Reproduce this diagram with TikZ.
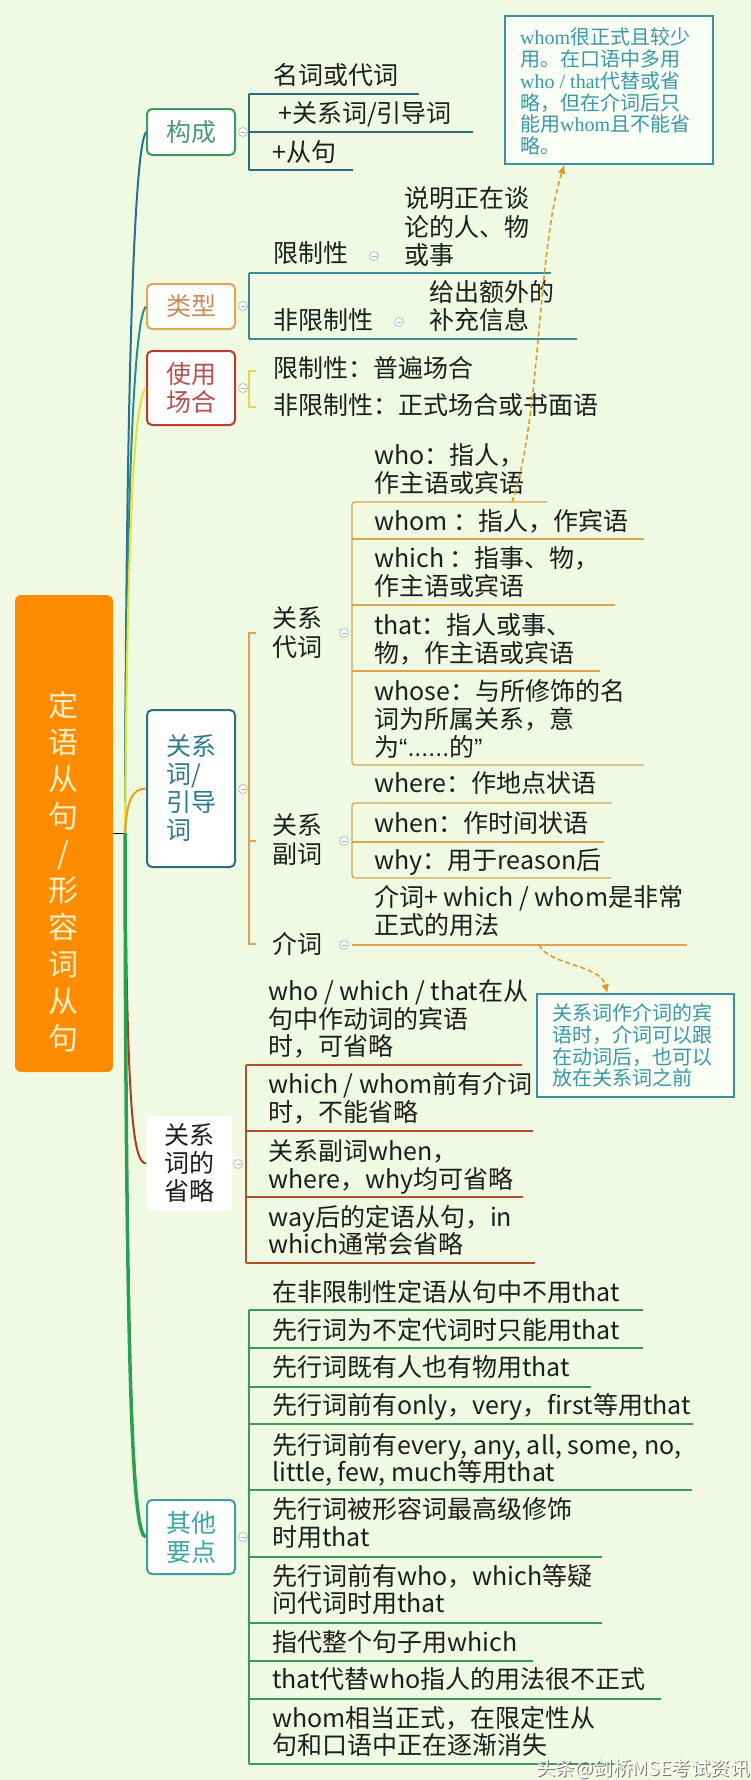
\documentclass[tikz,border=0pt]{standalone}
\usepackage{fontspec}
\setmainfont{Noto Sans CJK SC}
\newfontfamily\serifen{Liberation Serif}
\newfontfamily\latinsans{Liberation Sans}
\usetikzlibrary{arrows.meta}
\definecolor{bg}{RGB}{240,250,226}
\definecolor{txt}{RGB}{30,30,30}
\definecolor{gouB}{RGB}{59,154,100}
\definecolor{gouT}{RGB}{74,154,120}
\definecolor{lxB}{RGB}{226,165,80}
\definecolor{lxT}{RGB}{200,140,90}
\definecolor{syB}{RGB}{192,57,43}
\definecolor{syT}{RGB}{181,81,78}
\definecolor{gxB}{RGB}{45,111,126}
\definecolor{gxT}{RGB}{45,122,138}
\definecolor{qtB}{RGB}{58,160,160}
\definecolor{qtT}{RGB}{58,168,160}
\definecolor{kA}{RGB}{47,107,124}
\definecolor{kB}{RGB}{58,138,149}
\definecolor{kC}{RGB}{232,214,80}
\definecolor{kD}{RGB}{219,165,80}
\definecolor{kE}{RGB}{181,80,46}
\definecolor{kF}{RGB}{58,154,90}
\definecolor{rA}{RGB}{43,111,142}
\definecolor{rB}{RGB}{44,140,140}
\definecolor{rC}{RGB}{230,226,60}
\definecolor{rD}{RGB}{232,160,32}
\definecolor{rE}{RGB}{176,58,32}
\definecolor{rF}{RGB}{42,160,80}
\definecolor{rootc}{RGB}{255,140,0}
\definecolor{roott}{RGB}{255,240,200}
\definecolor{callB}{RGB}{58,144,160}
\definecolor{callT}{RGB}{58,152,168}
\definecolor{callF}{RGB}{250,255,245}
\definecolor{dashc}{RGB}{229,149,30}
\newcommand\itemfont{\fontsize{25}{27.5}\selectfont}
\newcommand\callfont{\fontsize{20}{21.8}\selectfont}
\newcommand\rootfont{\fontsize{30}{37}\selectfont}
\newcommand\wmfont{\fontsize{19.5}{24}\selectfont}
\newcommand\lns[2]{\vtop{\baselineskip=#1pt\relax\halign{##\hfil\cr#2\crcr}}}
\newcommand\clns[2]{\vtop{\baselineskip=#1pt\relax\halign{\hfil##\hfil\cr#2\crcr}}}
\begin{document}
\begin{tikzpicture}[x=1pt,y=-1pt,
  item/.style={anchor=base west,inner sep=0,font=\itemfont,text=txt},
  lbl/.style={rounded corners=5pt,line width=2pt,fill=white,minimum width=88pt,inner sep=0,font=\itemfont},
  rootbox/.style={fill=rootc,rounded corners=6pt,minimum width=98pt,minimum height=477pt,inner sep=0},
  roottxt/.style={inner sep=0,font=\rootfont,text=roott},
  callbox/.style={draw=callB,fill=callF,line width=1.3pt,inner sep=0},
  calltxt/.style={anchor=base west,inner sep=0,font=\callfont,text=callT},
  brk/.style={line width=1.3pt},
  branch/.style={line width=2pt},
  clp/.style={circle,draw=gray!60,fill=white,line width=0.6pt,minimum size=9pt,inner sep=0,
    path picture={\draw[gray!60,line width=0.6pt] ([xshift=-2.5pt]path picture bounding box.center) -- ([xshift=2.5pt]path picture bounding box.center);}},
  dasharrow/.style={draw=dashc,line width=1.5pt,dash pattern=on 5pt off 3pt,-{Latex[length=9pt,width=8pt]}}
]
\useasboundingbox (0,0) rectangle (751,1780);
\fill[bg] (0,0) rectangle (751,1780);

% ---------- brackets / underlines ----------
% 构成
\draw[brk,kA] (249,94) -- (249,170);
\draw[brk,kA] (249,94) -- (419,94);
\draw[brk,kA] (249,132) -- (473,132);
\draw[brk,kA] (249,170) -- (353,170);
% 类型
\draw[brk,kB] (249,273) -- (249,339);
\draw[brk,kB] (249,273) -- (551,273);
\draw[brk,kB] (249,339) -- (577,339);
% 使用场合
\draw[brk,kC] (256,371) -- (249,371) -- (249,407) -- (256,407);
% 关系词/引导词
\draw[brk,kD] (256,633) -- (249,633) -- (249,944) -- (256,944);
\draw[brk,kD] (249,841) -- (256,841);
\draw[brk,kD,rounded corners=3pt] (547,502) -- (352,502) -- (352,765) -- (644,765);
\draw[brk,kD] (352,539) -- (644,539);
\draw[brk,kD] (352,605) -- (615,605);
\draw[brk,kD] (352,671) -- (600,671);
\draw[brk,kD,rounded corners=3pt] (612,803) -- (352,803) -- (352,878) -- (611,878);
\draw[brk,kD] (352,842) -- (604,842);
\draw[brk,kD] (352,945) -- (687,945);
% 关系词的省略
\draw[brk,kE] (246,1065) -- (246,1263);
\draw[brk,kE] (246,1065) -- (522,1065);
\draw[brk,kE] (246,1131) -- (533,1131);
\draw[brk,kE] (246,1197) -- (523,1197);
\draw[brk,kE] (246,1263) -- (535,1263);
% 其他要点
\draw[brk,kF] (249,1310) -- (249,1764);
\draw[brk,kF] (249,1310) -- (643,1310);
\draw[brk,kF] (249,1348) -- (643,1348);
\draw[brk,kF] (249,1387) -- (591,1387);
\draw[brk,kF] (249,1424) -- (693,1424);
\draw[brk,kF] (249,1490) -- (692,1490);
\draw[brk,kF] (249,1557) -- (602,1557);
\draw[brk,kF] (249,1623) -- (602,1623);
\draw[brk,kF] (249,1661) -- (533,1661);
\draw[brk,kF] (249,1699) -- (661,1699);
\draw[brk,kF] (249,1764) -- (614,1764);

% ---------- root and sub topics ----------
\node[rootbox] (root) at (64,833.5) {};
\node[roottxt] (roottext) at (63,872) {\clns{37}{定\cr 语\cr 从\cr 句\cr /\cr 形\cr 容\cr 词\cr 从\cr 句}};

\node[lbl,draw=gouB,text=gouT,minimum height=46pt] (b1) at (191,132) {构成};
\node[lbl,draw=lxB,text=lxT,minimum height=45pt] (b2) at (191,306.5) {类型};
\node[lbl,draw=syB,text=syT,minimum height=74pt] (b3) at (191,388) {\clns{28}{使用\cr 场合}};
\node[lbl,draw=gxB,text=gxT,minimum height=157pt] (b4) at (191,788.5) {\lns{28}{关系\cr 词/\cr 引导\cr 词}};
\node[lbl,draw=none,rounded corners=0pt,text=txt,minimum width=85pt,minimum height=95pt] (b5) at (189.5,1163.5) {\lns{28}{关系\cr 词的\cr 省略}};
\node[lbl,draw=qtB,text=qtT,minimum height=74pt] (b6) at (191,1537) {\clns{29}{其他\cr 要点}};

% ---------- branches ----------
\coordinate (hub) at (125,833);
\draw[line width=1pt,black] (root.east |- hub) -- (hub);
\draw[branch,rA] (hub) .. controls (126,420) and (133,150) .. (b1.west);
\draw[branch,rB] (hub) .. controls (126,520) and (133,318) .. (b2.west);
\draw[branch,rC] (hub) .. controls (127,560) and (133,398) .. (b3.west);
\draw[branch,rD] (hub) .. controls (127,800) and (132,789) .. (b4.west);
\draw[branch,rE] (hub) .. controls (127,1100) and (132,1163) .. (b5.west);
\draw[line width=3.5pt,rF] (hub) .. controls (126,1400) and (133,1537) .. (b6.west);

% ---------- collapse markers ----------
\node[clp] (k1) at (243,132) {};
\node[clp] (k2) at (243,306) {};
\node[clp] (k3) at (243,388) {};
\node[clp] (k4) at (243,789) {};
\node[clp] (k5) at (344,633) {};
\node[clp] (k6) at (344,841) {};
\node[clp] (k7) at (344,945) {};
\node[clp] (k8) at (238,1164) {};
\node[clp] (k9) at (243,1537) {};
\node[clp] (k10) at (374,256) {};
\node[clp] (k11) at (399,322) {};

% ---------- 构成 ----------
\node[item] (c1) at (273,84.5) {名词或代词};
\node[item] (c2) at (278,122.5) {+关系词/引导词};
\node[item] (c3) at (272,161.5) {+从句};
% ---------- 类型 ----------
\node[item] (t1) at (273,262.5) {限制性};
\node[item] (t1c) at (404,207.5) {\lns{28.5}{说明正在谈\cr 论的人、物\cr 或事}};
\node[item] (t2) at (273,329.5) {非限制性};
\node[item] (t2c) at (429,301.5) {\lns{28}{给出额外的\cr 补充信息}};
% ---------- 使用场合 ----------
\node[item] (u1) at (273,377.5) {限制性：普遍场合};
\node[item] (u2) at (273,414.5) {非限制性：正式场合或书面语};
% ---------- 关系词/引导词 ----------
\node[item] (pl) at (272,627.5) {\lns{29}{关系\cr 代词}};
\node[item] (p1) at (374,464.5) {\lns{27.5}{who：指人，\cr 作主语或宾语}};
\node[item] (p2) at (374,530.5) {whom ：指人，作宾语};
\node[item] (p3) at (374,567.5) {\lns{27.5}{which ：指事、物，\cr 作主语或宾语}};
\node[item] (p4) at (374,634.5) {\lns{27.5}{that：指人或事、\cr 物，作主语或宾语}};
\node[item] (p5) at (374,700.5) {\lns{28}{whose：与所修饰的名\cr 词为所属关系，意\cr 为{\latinsans“......}的{\latinsans”}}};
\node[item] (al) at (272,834.5) {\lns{29}{关系\cr 副词}};
\node[item] (a1) at (374,792.5) {where：作地点状语};
\node[item] (a2) at (374,832.5) {when：作时间状语};
\node[item] (a3) at (374,869.5) {why：用于reason后};
\node[item] (jl) at (272,953.5) {介词};
\node[item] (j1) at (374,906.5) {\lns{28}{介词+ which / whom是非常\cr 正式的用法}};
% ---------- 关系词的省略 ----------
\node[item] (o1) at (268,1000.5) {\lns{27.5}{who / which / that在从\cr 句中作动词的宾语\cr 时，可省略}};
\node[item] (o2) at (268,1093.5) {\lns{27.5}{which / whom前有介词\cr 时，不能省略}};
\node[item] (o3) at (268,1160.5) {\lns{27.5}{关系副词when，\cr where，why均可省略}};
\node[item] (o4) at (268,1226.5) {\lns{27}{way后的定语从句，in\cr which通常会省略}};
% ---------- 其他要点 ----------
\node[item] (q1) at (272,1301.5) {在非限制性定语从句中不用that};
\node[item] (q2) at (272,1339.5) {先行词为不定代词时只能用that};
\node[item] (q3) at (272,1376.5) {先行词既有人也有物用that};
\node[item] (q4) at (272,1414.5) {先行词前有only，very，first等用that};
\node[item] (q5) at (272,1454.5) {\lns{27}{先行词前有every, any, all, some, no,\cr little, few, much等用that}};
\node[item] (q6) at (272,1518.5) {\lns{28}{先行词被形容词最高级修饰\cr 时用that}};
\node[item] (q7) at (272,1585.5) {\lns{27}{先行词前有who，which等疑\cr 问代词时用that}};
\node[item] (q8) at (272,1651.5) {指代整个句子用which};
\node[item] (q9) at (272,1688.5) {that代替who指人的用法很不正式};
\node[item] (q10) at (272,1727.5) {\lns{27}{whom相当正式，在限定性从\cr 句和口语中正在逐渐消失}};

% ---------- callouts ----------
\node[callbox,minimum width=208pt,minimum height=148pt] (cb1) at (609,90) {};
\node[calltxt] (cb1t) at (520,44.6) {\lns{21.8}{{\serifen whom}很正式且较少\cr 用。在口语中多用\cr {\serifen who / that}代替或省\cr 略，但在介词后只\cr 能用{\serifen whom}且不能省\cr 略。}};
\node[callbox,minimum width=197pt,minimum height=103pt] (cb2) at (635.5,1045.5) {};
\node[calltxt] (cb2t) at (552,1020.6) {\lns{21.7}{关系词作介词的宾\cr 语时，介词可以跟\cr 在动词后，也可以\cr 放在关系词之前}};

\coordinate (d1s) at (512,502);
\path (cb1.south west) ++(60,0) coordinate (d1e);
\draw[dasharrow] (d1s) .. controls (541,420) and (537,250) .. (d1e);
\coordinate (d2s) at (539,945);
\path (cb2.north west) ++(71,0) coordinate (d2e);
\draw[dasharrow] (d2s) .. controls (550,966) and (600,964) .. (d2e);

% ---------- watermark ----------
\node[anchor=base west,inner sep=0,font=\wmfont,text=black!55] (wmshadow) at (537,1776) {头条@剑桥MSE考试资讯};
\node[anchor=base west,inner sep=0,font=\wmfont,text=white] (wm) at (536,1775) {头条@剑桥MSE考试资讯};
\end{tikzpicture}
\end{document}
